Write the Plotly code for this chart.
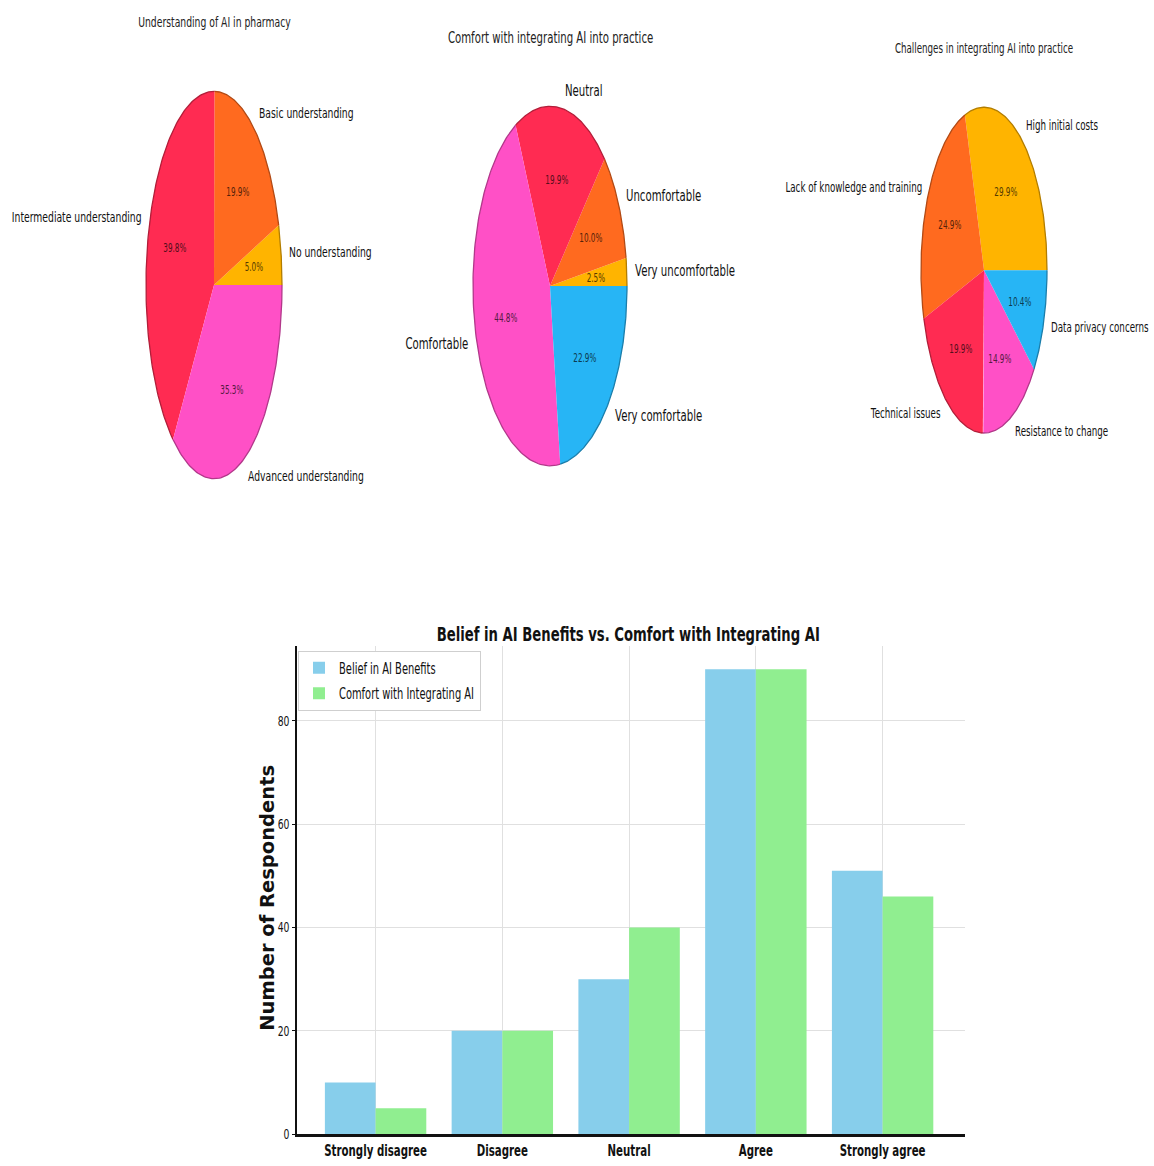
import numpy as np
import plotly.graph_objects as go

W, H = 1154, 1166

# ---- survey data ----
understanding_labels = ["No understanding", "Basic understanding",
                        "Intermediate understanding", "Advanced understanding"]
understanding_pct = [5.0, 19.9, 39.8, 35.3]

comfort_labels = ["Very uncomfortable", "Uncomfortable", "Neutral",
                  "Comfortable", "Very comfortable"]
comfort_pct = [2.5, 10.0, 19.9, 44.8, 22.9]

challenge_labels = ["High initial costs", "Lack of knowledge and training",
                    "Technical issues", "Resistance to change",
                    "Data privacy concerns"]
challenge_pct = [29.9, 24.9, 19.9, 14.9, 10.4]

likert = ["Strongly disagree", "Disagree", "Neutral", "Agree", "Strongly agree"]
belief_counts = [10, 20, 30, 90, 51]
comfort_counts = [5, 20, 40, 90, 46]
y_ticks = [0, 20, 40, 60, 80]

# ---- styling ----
GOLD, ORANGE, RED, PINK, BLUE = "#FFB400", "#FF6A1F", "#FF2B52", "#FF50C6", "#27B5F5"
FONT = "DejaVu Sans"
Y_TITLE = "Number of Respondents"
PCT_SIZE = 12.5


def darken(hex_color, k):
    h = hex_color.lstrip("#")
    r, g, b = (int(h[i:i + 2], 16) for i in (0, 2, 4))
    return "rgb({},{},{})".format(int(r * k), int(g * k), int(b * k))


# each pie: axis suffix, centre (px), radii (px), text size, title, labels, values, colours
pies = [
    dict(ax="", cx=214, cy=287, rx=68, ry=195, fs=14.0,
         title="Understanding of AI in pharmacy", ty=22,
         labels=understanding_labels, values=understanding_pct,
         colors=[GOLD, ORANGE, RED, PINK]),
    dict(ax="2", cx=550, cy=288, rx=77, ry=181, fs=15.4,
         title="Comfort with integrating AI into practice", ty=38,
         labels=comfort_labels, values=comfort_pct,
         colors=[GOLD, ORANGE, RED, PINK, BLUE]),
    dict(ax="3", cx=984, cy=272, rx=63, ry=164, fs=13.2,
         title="Challenges in integrating AI into practice", ty=49,
         labels=challenge_labels, values=challenge_pct,
         colors=[GOLD, ORANGE, RED, PINK, BLUE]),
]

fig = go.Figure()
annotations = []
layout_axes = {}
R = 1.35

for p in pies:
    xa = "x" + p["ax"]
    ya = "y" + p["ax"]
    layout_axes["xaxis" + p["ax"]] = dict(
        domain=[(p["cx"] - R * p["rx"]) / W, (p["cx"] + R * p["rx"]) / W],
        range=[-R, R], visible=False, fixedrange=True, anchor=ya)
    layout_axes["yaxis" + p["ax"]] = dict(
        domain=[1 - (p["cy"] + R * p["ry"]) / H, 1 - (p["cy"] - R * p["ry"]) / H],
        range=[-R, R], visible=False, fixedrange=True, anchor=xa)

    total = float(sum(p["values"]))
    start = 0.0
    for lab, val, col in zip(p["labels"], p["values"], p["colors"]):
        sweep = 360.0 * val / total
        th = np.radians(np.linspace(start, start + sweep, 120))
        xs = np.concatenate([[0.0], np.cos(th), [0.0]])
        ys = np.concatenate([[0.0], np.sin(th), [0.0]])
        fig.add_trace(go.Scatter(x=xs, y=ys, mode="lines", fill="toself",
                                 fillcolor=col, line=dict(width=0, color=col),
                                 xaxis=xa, yaxis=ya, showlegend=False,
                                 hoverinfo="skip"))
        # darker rim along the arc
        fig.add_trace(go.Scatter(x=np.cos(th), y=np.sin(th), mode="lines",
                                 line=dict(width=1.3, color=darken(col, 0.7)),
                                 xaxis=xa, yaxis=ya, showlegend=False,
                                 hoverinfo="skip"))
        mid = np.radians(start + sweep / 2)
        lx, ly = 1.1 * np.cos(mid), 1.1 * np.sin(mid)
        side = "left" if lx >= 0 else "right"
        annotations.append(dict(
            x=lx, y=ly, xref=xa, yref=ya, text=lab, showarrow=False,
            xanchor=side, align=side, yanchor="middle", borderpad=0,
            font=dict(family=FONT, size=p["fs"], color="#111111")))
        annotations.append(dict(
            x=0.6 * np.cos(mid), y=0.6 * np.sin(mid), xref=xa, yref=ya,
            text="{:.1f}%".format(val), showarrow=False,
            xanchor="center", yanchor="middle",
            font=dict(family=FONT, size=PCT_SIZE, color=darken(col, 0.33))))
        start += sweep

    annotations.append(dict(
        x=p["cx"] / W, y=1 - p["ty"] / H, xref="paper", yref="paper",
        text=p["title"], showarrow=False, xanchor="center", yanchor="middle",
        font=dict(family=FONT, size=p["fs"], color="#222222")))

# ---- grouped bar chart ----
fig.add_trace(go.Bar(x=likert, y=belief_counts, name="Belief in AI Benefits",
                     marker=dict(color="#87CEEB", line=dict(width=0)),
                     legendgroup="belief", xaxis="x4", yaxis="y4"))
fig.add_trace(go.Bar(x=likert, y=comfort_counts, name="Comfort with Integrating AI",
                     marker=dict(color="#90EE90", line=dict(width=0)),
                     legendgroup="comfort", xaxis="x4", yaxis="y4"))

layout_axes["xaxis4"] = dict(
    domain=[297 / W, 965 / W], anchor="y4", range=[-0.62, 4.65],
    showgrid=True, gridcolor="#e0e0e0", gridwidth=1,
    showline=True, linecolor="#111111", linewidth=2.5,
    ticks="", tickfont=dict(family=FONT, size=15.5, color="#111111", weight="bold"),
    fixedrange=True)
layout_axes["yaxis4"] = dict(
    domain=[1 - 1142 / H, 1 - 650 / H], anchor="x4", range=[0, 94.6],
    tickvals=y_ticks, showgrid=True, gridcolor="#e0e0e0", gridwidth=1,
    zeroline=False, showline=True, linecolor="#111111", linewidth=1.5,
    ticks="outside", ticklen=3, tickcolor="#111111",
    tickfont=dict(family=FONT, size=14, color="#111111"),
    fixedrange=True)

annotations.append(dict(
    x=268 / W, y=1 - 904 / H, xref="paper", yref="paper", textangle=-90,
    text=Y_TITLE, showarrow=False, xanchor="center", yanchor="middle",
    font=dict(family=FONT, size=19.5, color="#111111", weight="bold")))

annotations.append(dict(
    x=628 / W, y=1 - 638 / H, xref="paper", yref="paper",
    text="Belief in AI Benefits vs. Comfort with Integrating AI", showarrow=False,
    xanchor="center", yanchor="middle",
    font=dict(family=FONT, size=20, color="#111111", weight="bold")))

fig.update_layout(
    width=W, height=H, margin=dict(l=0, r=0, t=0, b=0),
    paper_bgcolor="white", plot_bgcolor="white",
    barmode="group", bargap=0.2, bargroupgap=0.0,
    showlegend=True,
    legend=dict(x=298 / W, y=1 - 655 / H, xanchor="left", yanchor="top",
                bgcolor="white", bordercolor="#cfcfcf", borderwidth=1,
                font=dict(family=FONT, size=15, color="#111111"),
                tracegroupgap=3, itemwidth=30),
    annotations=annotations,
    **layout_axes)

# Narrow every label horizontally (all but the rotated axis caption),
# then fit the annotation boxes and the legend frame to the narrowed text.
squeeze_js = """
var gd = document.getElementById('{plot_id}');
function squeezeText() {
  gd.querySelectorAll('svg text').forEach(function (el) {
    if (el.textContent === '%s' || el.getAttribute('data-narrow')) { return; }
    var w = el.getComputedTextLength();
    if (!w) { return; }
    var f = (el.style.fontSize === '%spx') ? 0.58 : 0.66;
    el.setAttribute('textLength', (w * f).toFixed(2));
    el.setAttribute('lengthAdjust', 'spacingAndGlyphs');
    el.setAttribute('data-narrow', '1');
  });
  gd.querySelectorAll('g.annotation-text-g').forEach(function (g) {
    var t = g.querySelector('text.annotation-text');
    var bg = g.querySelector('rect.bg');
    if (!t || !bg || t.textContent === '%s') { return; }
    var bb = t.getBBox();
    bg.setAttribute('x', bb.x.toFixed(1));
    bg.setAttribute('width', bb.width.toFixed(1));
  });
  var leg = gd.querySelector('g.legend');
  if (leg) {
    var lbg = leg.querySelector('rect.bg');
    var left = lbg.getBoundingClientRect().left;
    var right = 0;
    leg.querySelectorAll('text.legendtext').forEach(function (t) {
      right = Math.max(right, t.getBoundingClientRect().right);
    });
    if (right > left) { lbg.setAttribute('width', (right - left + 6).toFixed(1)); }
  }
}
squeezeText();
gd.on('plotly_afterplot', squeezeText);
""" % (Y_TITLE, PCT_SIZE, Y_TITLE)

fig.write_html("out.html", post_script=squeeze_js)
